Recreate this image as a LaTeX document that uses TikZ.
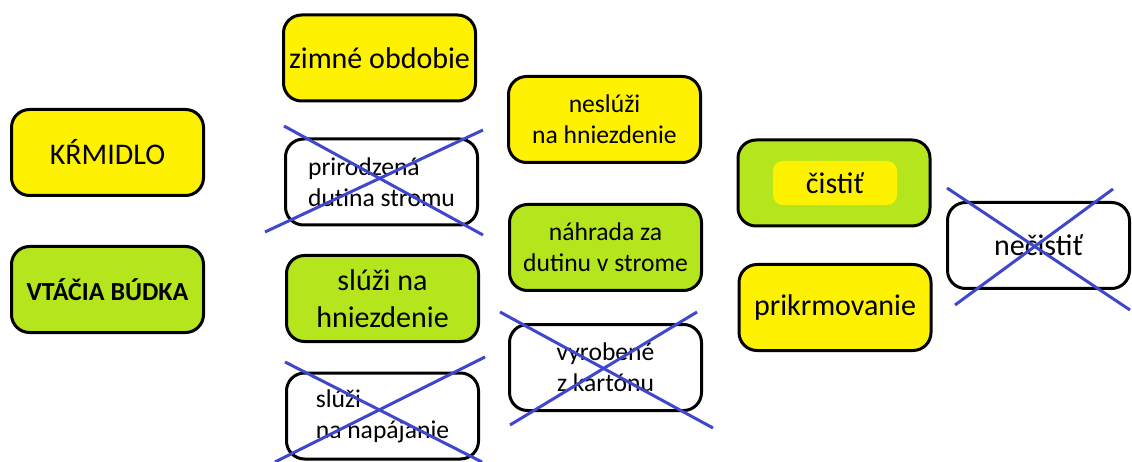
\documentclass[tikz,border=0pt]{standalone}
\usepackage{fontspec}
\setmainfont{Carlito}
\definecolor{paintyellow}{RGB}{255,242,0}
\definecolor{paintgreen}{RGB}{181,230,29}
\definecolor{paintblue}{RGB}{63,72,204}
\newcommand{\crossbox}[8]{ \draw[strike] ( #1 , #2 ) -- ( #3 , #4 ); \draw[strike] ( #5 , #6 ) -- ( #7 , #8 );}
\tikzset{
  card/.style={draw, line width=3pt, rounded corners=18pt, minimum width=192pt, minimum height=86pt, inner sep=0pt, align=center},
  yellowcard/.style={card, fill=paintyellow},
  greencard/.style={card, fill=paintgreen},
  whitecard/.style={card, fill=white, align=left},
  bigtext/.style={font=\fontsize{30}{37}\selectfont},
  smalltext/.style={font=\fontsize{25.6}{31}\selectfont},
  strike/.style={paintblue, line width=3pt}
}

\begin{document}
\begin{tikzpicture}[x=1pt,y=-1pt]
\useasboundingbox (0,0) rectangle (1132,462);
%
\node[yellowcard, bigtext] (krmidlo) at (107.5,152.5) {KŔMIDLO};
\node[greencard, font=\fontsize{26}{31}\selectfont\bfseries] (budka) at (107.5,289.5) {VTÁČIA BÚDKA};
%
\node[yellowcard, bigtext] (zimne) at (379.5,58) {zimné obdobie};
\node[whitecard, smalltext] (dutina) at (381.5,182) {prirodzená\\dutina stromu};
\node[greencard, bigtext] (hniezdi) at (382.5,298.5) {slúži na\\hniezdenie};
\node[whitecard, smalltext] (napaja) at (382.5,416) {slúži\\na napájanie};
%
\node[yellowcard, smalltext] (nesluzi) at (604.5,119.5) {neslúži\\na hniezdenie};
\node[greencard, smalltext] (nahrada) at (605.5,247.5) {náhrada za\\dutinu v strome};
\node[whitecard, smalltext, align=center] (karton) at (605.5,367.5) {vyrobené\\z kartónu};
%
\node[greencard] (cistit) at (834,183) {};
\node[fill=paintyellow, rounded corners=10pt, minimum width=124pt, minimum height=44pt, inner sep=0pt, bigtext] (cistittext) at (835,183) {čistiť\hspace{14pt}};
\node[yellowcard, bigtext] (prikrm) at (835,307.5) {prikrmovanie};
\node[whitecard, bigtext, minimum width=182pt] (necistit) at (1038.5,245.5) {nečistiť};

% preciarknute moznosti
\crossbox{284}{126}{483}{235}{265}{232}{483}{130}
\crossbox{285}{362}{482}{462}{275}{462}{485}{357}
\crossbox{500}{312}{713}{428}{510}{425}{697}{312}
\crossbox{947}{188}{1130}{310}{955}{305}{1113}{189}

\end{tikzpicture}
\end{document}
